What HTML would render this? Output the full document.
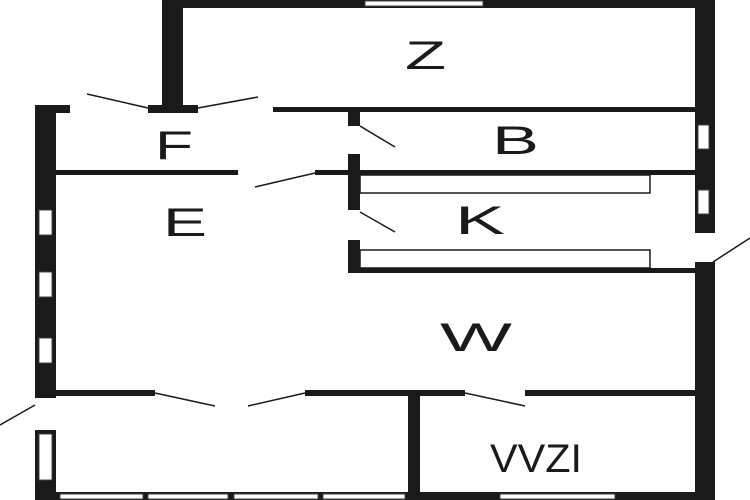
<!DOCTYPE html>
<html><head><style>body{margin:0;background:#fff}svg{display:block}text{font-family:"Liberation Sans",sans-serif;font-size:40px;fill:#1a1a1a}</style></head><body>
<svg width="750" height="500" viewBox="0 0 750 500">
<rect width="750" height="500" fill="#fff"/>
<g fill="#1a1a1a">
<rect x="162" y="0" width="21" height="113"/>
<rect x="162" y="0" width="553" height="8"/>
<rect x="695" y="0" width="20" height="500"/>
<rect x="35" y="105" width="21" height="395"/>
<rect x="35" y="105" width="35" height="8"/>
<rect x="148" y="105" width="50" height="8"/>
<rect x="273" y="107" width="422" height="5"/>
<rect x="56" y="170" width="182" height="5"/>
<rect x="315" y="170" width="45" height="5"/>
<rect x="348" y="112" width="12" height="14"/>
<rect x="348" y="154" width="12" height="56"/>
<rect x="348" y="240" width="12" height="33"/>
<rect x="348" y="268" width="347" height="5"/>
<rect x="360" y="170" width="335" height="5"/>
<rect x="56" y="390" width="99" height="6"/>
<rect x="305" y="390" width="160" height="6"/>
<rect x="525" y="390" width="170" height="6"/>
<rect x="408" y="390" width="12" height="110"/>
<rect x="35" y="492" width="680" height="8"/>
</g>
<g fill="#fff" stroke="#444" stroke-width="1">
<rect x="365" y="1" width="118" height="5"/>
<rect x="698" y="125" width="11" height="24"/>
<rect x="698" y="190" width="11" height="24"/>
<rect x="39" y="210" width="13" height="25"/>
<rect x="39" y="272" width="13" height="25"/>
<rect x="39" y="338" width="13" height="25"/>
<rect x="39" y="434" width="13" height="46"/>
<rect x="60" y="494" width="83" height="5"/>
<rect x="148" y="494" width="80" height="5"/>
<rect x="234" y="494" width="84" height="5"/>
<rect x="323" y="494" width="82" height="5"/>
<rect x="500" y="494" width="115" height="5"/>
</g>
<g fill="#fff" stroke="none">
<rect x="695" y="233" width="20" height="29"/>
<rect x="35" y="398" width="21" height="32"/>
</g>
<g fill="none" stroke="#1a1a1a" stroke-width="1.5">
<rect x="360" y="175" width="290" height="18"/>
<rect x="360" y="250" width="290" height="18"/>
<line x1="87" y1="94" x2="148" y2="108"/>
<line x1="198" y1="108" x2="258" y2="97"/>
<line x1="315" y1="173" x2="255" y2="187"/>
<line x1="360" y1="126" x2="395" y2="147"/>
<line x1="360" y1="212" x2="395" y2="232"/>
<line x1="713" y1="262" x2="750" y2="238"/>
<line x1="35" y1="405" x2="0" y2="425"/>
<line x1="155" y1="393" x2="215" y2="406"/>
<line x1="305" y1="393" x2="248" y2="406"/>
<line x1="465" y1="393" x2="525" y2="406"/>
</g>
<text x="405" y="69" textLength="41" lengthAdjust="spacingAndGlyphs">Z</text>
<text x="155" y="159" textLength="38" lengthAdjust="spacingAndGlyphs">F</text>
<text x="492" y="154" textLength="47" lengthAdjust="spacingAndGlyphs">B</text>
<text x="163" y="236" textLength="44" lengthAdjust="spacingAndGlyphs">E</text>
<text x="455" y="234" textLength="50" lengthAdjust="spacingAndGlyphs">K</text>
<text x="440" y="351" textLength="72" lengthAdjust="spacingAndGlyphs">W</text>
<text x="490" y="472" textLength="92" lengthAdjust="spacingAndGlyphs">VVZI</text>
</svg>
</body></html>
